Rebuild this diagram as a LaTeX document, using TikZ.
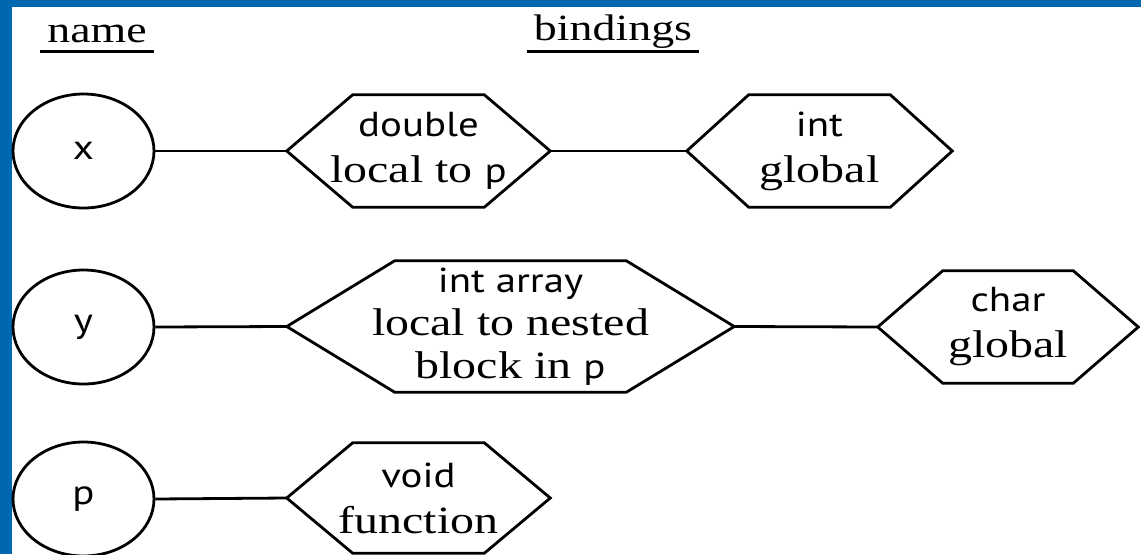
\documentclass[tikz,border=0pt]{standalone}
\usepackage{fontspec}
\setmainfont{Liberation Serif}
\setsansfont{PT Sans}
\usepackage{graphicx}
\usetikzlibrary{shapes.geometric}
\definecolor{bandblue}{HTML}{0067B1}
\newcommand\sx[1]{\scalebox{1.24}[1]{#1}}
\newcommand\sa[1]{{\sffamily\fontsize{26}{34.5}\selectfont\scalebox{0.95}[1]{#1}}}
\newcommand\se[1]{{\rmfamily\fontsize{29}{34.5}\selectfont #1}}
\newcommand\hexdraw[2]{\draw[hexline] (#1.west) -- ([xshift=#2]#1.north west) -- ([xshift=-#2]#1.north east) -- (#1.east) -- ([xshift=-#2]#1.south east) -- ([xshift=#2]#1.south west) -- cycle;}
\begin{document}
\begin{tikzpicture}[x=0.75pt,y=-0.75pt,
  hexline/.style={line width=2.1pt, line join=miter},
  namecirc/.style={ellipse, draw, line width=2.1pt, minimum width=105.75pt, minimum height=85.5pt, inner sep=0pt},
  hexnode/.style={inner sep=0pt, align=center, font=\fontsize{27.75}{34.5}\selectfont},
  link/.style={line width=2.1pt},
  hdr/.style={inner xsep=5pt, inner ysep=0pt, font=\rmfamily\fontsize{27.75}{34.5}\selectfont, anchor=base},
  uline/.style={line width=1.8pt}]
\useasboundingbox (0,0) rectangle (1141,554);
\fill[white] (0,0) rectangle (1141,554);
\fill[bandblue] (0,0) rectangle (1141,7);
\fill[bandblue] (0,0) rectangle (12,554);

% headers
\node[hdr] (hname) at (97,42) {\sx{name}};
\node[hdr] (hbind) at (613,40) {\sx{bindings}};
\draw[uline] ([yshift=-7pt]hname.base west) -- ([yshift=-7pt]hname.base east);
\draw[uline] ([yshift=-8.5pt]hbind.base west) -- ([yshift=-8.5pt]hbind.base east);

% names
\node[namecirc] (nx) at (83.5,151) {\sx{\sa{x}}};
\node[namecirc] (ny) at (83.5,327) {\sx{\sa{y}}};
\node[namecirc] (np) at (83.5,499) {\sx{\sa{p}}};

% bindings
\node[hexnode, minimum width=197.25pt, minimum height=84pt] (h1) at (418.5,151)
  {\sx{\sa{double}}\\\sx{\se{local to }\sa{p}}};
\node[hexnode, minimum width=198.75pt, minimum height=84pt] (h2) at (819.5,151)
  {\sx{\sa{int}}\\\sx{\se{global}}};
\node[hexnode, minimum width=335.25pt, minimum height=98.25pt, font=\fontsize{27.75}{32.25}\selectfont] (h3) at (510.5,326.5)
  {\sx{\sa{int array}}\\\sx{\se{local to nested}}\\\sx{\se{block in }\sa{p}}};
\node[hexnode, minimum width=195pt, minimum height=84pt] (h4) at (1008,327)
  {\sx{\sa{char}}\\\sx{\se{global}}};
\node[hexnode, minimum width=197.25pt, minimum height=82.5pt] (h5) at (418.5,498)
  {\sx{\sa{void}}\\\sx{\se{function}}};

\hexdraw{h1}{49.5pt}
\hexdraw{h2}{46.5pt}
\hexdraw{h3}{81pt}
\hexdraw{h4}{48.75pt}
\hexdraw{h5}{49.5pt}

% connectors
\draw[link] (nx.east) -- (h1.west);
\draw[link] (h1.east) -- (h2.west);
\draw[link] (ny.east) -- (h3.west);
\draw[link] (h3.east) -- (h4.west);
\draw[link] (np.east) -- (h5.west);
\end{tikzpicture}
\end{document}
